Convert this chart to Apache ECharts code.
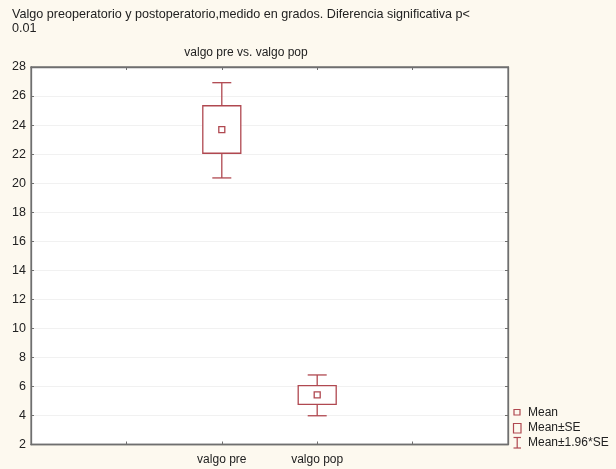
<!DOCTYPE html>
<html><head><meta charset="utf-8">
<script src="https://cdn.jsdelivr.net/npm/echarts@6/dist/echarts.min.js"></script>
<style>html,body{margin:0;padding:0;background:#fdf9ef;}#c{width:616px;height:469px;}</style>
</head><body><div id="c"></div>
<script>
const categories = ['', '', 'valgo pre', 'valgo pop', '', ''];
const groups = ['valgo pre', 'valgo pop'];
const means = [23.68, 5.42];
const seLow = [22.06, 4.77];
const seHigh = [25.33, 6.05];
const ciLow = [20.36, 3.98];
const ciHigh = [26.92, 6.79];
const yTicks = [2, 28, 2]; // min, max, interval

const RED = '#b04850';
const chart = echarts.init(document.getElementById('c'), null, {renderer: 'canvas'});
const FONT = 'Liberation Sans, Arial, sans-serif';

const ciData = groups.map((g, i) => [g, ciLow[i], ciHigh[i]]);
const seData = groups.map((g, i) => [g, seLow[i], seHigh[i]]);
const meanData = groups.map((g, i) => [g, means[i]]);

chart.setOption({
  backgroundColor: '#fdf9ef',
  animation: false,
  title: [
    {text: 'Valgo preoperatorio y postoperatorio,medido en grados. Diferencia significativa p<\n0.01',
     left: 7, top: 3, textStyle: {fontFamily: FONT, fontSize: 12.6, fontWeight: 'normal', color: '#222', lineHeight: 14}},
    {text: 'valgo pre vs. valgo pop', left: 241, top: 42, textAlign: 'center',
     textStyle: {fontFamily: FONT, fontSize: 12, fontWeight: 'normal', color: '#222'}}
  ],
  grid: {left: 31, top: 67, width: 477, height: 377.5, show: true, backgroundColor: '#ffffff', borderColor: '#7a7a7a', borderWidth: 1.3},
  xAxis: [
    {type: 'category', data: categories, boundaryGap: false, position: 'bottom',
     axisLine: {lineStyle: {color: '#6f6f6f', width: 1.3}},
     axisTick: {inside: true, length: 3, lineStyle: {color: '#6f6f6f'}},
     axisLabel: {margin: 9, fontFamily: FONT, fontSize: 12, color: '#222', interval: 0},
     splitLine: {show: false}},
    {type: 'category', data: categories, boundaryGap: false, position: 'top',
     axisLine: {lineStyle: {color: '#6f6f6f', width: 1.3}},
     axisTick: {inside: true, length: 3, lineStyle: {color: '#6f6f6f'}},
     axisLabel: {show: false}, splitLine: {show: false}}
  ],
  yAxis: [
    {type: 'value', min: yTicks[0], max: yTicks[1], interval: yTicks[2], position: 'left',
     axisLine: {show: true, lineStyle: {color: '#6f6f6f', width: 1.3}},
     axisTick: {show: true, inside: true, length: 3, lineStyle: {color: '#6f6f6f'}},
     axisLabel: {margin: 5, fontFamily: FONT, fontSize: 12.5, color: '#222'},
     splitLine: {show: true, lineStyle: {color: '#f1f1f1', width: 1}}},
    {type: 'value', min: yTicks[0], max: yTicks[1], interval: yTicks[2], position: 'right',
     axisLine: {show: true, lineStyle: {color: '#6f6f6f', width: 1.3}},
     axisTick: {show: true, inside: true, length: 3, lineStyle: {color: '#6f6f6f'}},
     axisLabel: {show: false}, splitLine: {show: false}}
  ],
  series: [
    {name: 'Mean±1.96*SE', type: 'custom', data: ciData, encode: {x: 0, y: [1, 2]}, z: 3,
     renderItem: function (params, api) {
       const lo = api.coord([api.value(0), api.value(1)]);
       const hi = api.coord([api.value(0), api.value(2)]);
       const hw = 9.5;
       return {type: 'group', children: [
         {type: 'line', shape: {x1: lo[0], y1: lo[1], x2: hi[0], y2: hi[1]}, style: {stroke: RED, lineWidth: 1.3}},
         {type: 'line', shape: {x1: lo[0] - hw, y1: lo[1], x2: lo[0] + hw, y2: lo[1]}, style: {stroke: RED, lineWidth: 1.3}},
         {type: 'line', shape: {x1: hi[0] - hw, y1: hi[1], x2: hi[0] + hw, y2: hi[1]}, style: {stroke: RED, lineWidth: 1.3}}
       ]};
     }},
    {name: 'Mean±SE', type: 'custom', data: seData, encode: {x: 0, y: [1, 2]}, z: 4,
     renderItem: function (params, api) {
       const lo = api.coord([api.value(0), api.value(1)]);
       const hi = api.coord([api.value(0), api.value(2)]);
       const hw = 19;
       return {type: 'rect', shape: {x: lo[0] - hw, y: hi[1], width: hw * 2, height: lo[1] - hi[1]},
               style: {fill: '#ffffff', stroke: RED, lineWidth: 1.3}};
     }},
    {name: 'Mean', type: 'custom', data: meanData, encode: {x: 0, y: 1}, z: 5,
     renderItem: function (params, api) {
       const p = api.coord([api.value(0), api.value(1)]);
       return {type: 'rect', shape: {x: p[0] - 3, y: p[1] - 3, width: 6, height: 6},
               style: {fill: '#ffffff', stroke: RED, lineWidth: 1.3}};
     }}
  ],
  graphic: [
    {type: 'rect', shape: {x: 514, y: 409.5, width: 6, height: 5.5}, style: {fill: 'none', stroke: RED, lineWidth: 1.2}},
    {type: 'text', x: 528, y: 412.5, style: {text: 'Mean', font: '12px ' + FONT, fill: '#222', verticalAlign: 'middle'}},
    {type: 'rect', shape: {x: 513.5, y: 423.5, width: 7.5, height: 9.5}, style: {fill: 'none', stroke: RED, lineWidth: 1.2}},
    {type: 'text', x: 528, y: 428, style: {text: 'Mean±SE', font: '12px ' + FONT, fill: '#222', verticalAlign: 'middle'}},
    {type: 'polyline', shape: {points: [[513.5, 437.5], [521, 437.5]]}, style: {stroke: RED, lineWidth: 1.2}},
    {type: 'polyline', shape: {points: [[517.2, 437.5], [517.2, 448]]}, style: {stroke: RED, lineWidth: 1.2}},
    {type: 'polyline', shape: {points: [[513.5, 448], [521, 448]]}, style: {stroke: RED, lineWidth: 1.2}},
    {type: 'text', x: 528, y: 443, style: {text: 'Mean±1.96*SE', font: '12px ' + FONT, fill: '#222', verticalAlign: 'middle'}}
  ]
});
</script>
</body></html>
